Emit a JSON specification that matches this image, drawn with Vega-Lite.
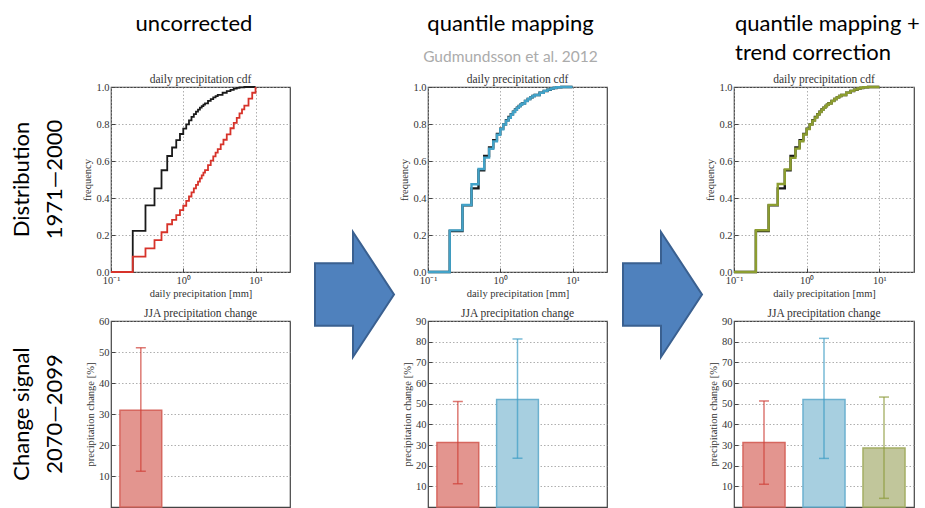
{
  "$schema": "https://vega.github.io/schema/vega-lite/v6.json",
  "padding": 0,
  "background": "white",
  "columns": 7,
  "spacing": {"row": 0, "column": 20},
  "bounds": "flush",
  "align": "each",
  "data": {"values": [{"k": 0}]},
  "datasets": {
    "obs": [{"x":0.1,"F":0},{"x":0.2,"F":0.222},{"x":0.3,"F":0.36},{"x":0.4,"F":0.452},{"x":0.5,"F":0.55},{"x":0.6,"F":0.627},{"x":0.7,"F":0.673},{"x":0.8,"F":0.713},{"x":0.9,"F":0.746},{"x":1.0,"F":0.775},{"x":1.1,"F":0.798},{"x":1.2,"F":0.82},{"x":1.3,"F":0.838},{"x":1.4,"F":0.853},{"x":1.5,"F":0.867},{"x":1.6,"F":0.878},{"x":1.7,"F":0.888},{"x":1.8,"F":0.897},{"x":1.9,"F":0.905},{"x":2.0,"F":0.912},{"x":2.2,"F":0.925},{"x":2.4,"F":0.935},{"x":2.6,"F":0.944},{"x":2.8,"F":0.951},{"x":3.0,"F":0.957},{"x":3.5,"F":0.969},{"x":4.0,"F":0.978},{"x":4.5,"F":0.985},{"x":5.0,"F":0.991},{"x":5.5,"F":0.995},{"x":6.0,"F":0.998},{"x":7.0,"F":1.0},{"x":10.0,"F":1.0}],
    "raw": [{"x":0.1,"F":0},{"x":0.2,"F":0.083},{"x":0.3,"F":0.128},{"x":0.4,"F":0.172},{"x":0.5,"F":0.215},{"x":0.6,"F":0.258},{"x":0.7,"F":0.282},{"x":0.8,"F":0.307},{"x":0.9,"F":0.334},{"x":1.0,"F":0.358},{"x":1.1,"F":0.384},{"x":1.2,"F":0.408},{"x":1.3,"F":0.43},{"x":1.4,"F":0.452},{"x":1.5,"F":0.471},{"x":1.6,"F":0.489},{"x":1.7,"F":0.506},{"x":1.8,"F":0.522},{"x":1.9,"F":0.537},{"x":2.0,"F":0.551},{"x":2.2,"F":0.578},{"x":2.4,"F":0.602},{"x":2.6,"F":0.625},{"x":2.8,"F":0.645},{"x":3.0,"F":0.664},{"x":3.3,"F":0.69},{"x":3.6,"F":0.715},{"x":4.0,"F":0.744},{"x":4.5,"F":0.777},{"x":5.0,"F":0.806},{"x":5.5,"F":0.833},{"x":6.0,"F":0.857},{"x":6.5,"F":0.879},{"x":7.0,"F":0.899},{"x":8.0,"F":0.937},{"x":9.0,"F":0.969},{"x":10.0,"F":1.0}],
    "qm": [{"x":0.1,"F":0},{"x":0.2,"F":0.225},{"x":0.3,"F":0.362},{"x":0.4,"F":0.474},{"x":0.5,"F":0.557},{"x":0.6,"F":0.618},{"x":0.7,"F":0.666},{"x":0.8,"F":0.706},{"x":0.9,"F":0.742},{"x":1.0,"F":0.772},{"x":1.1,"F":0.797},{"x":1.2,"F":0.818},{"x":1.3,"F":0.834},{"x":1.4,"F":0.851},{"x":1.5,"F":0.865},{"x":1.6,"F":0.877},{"x":1.7,"F":0.887},{"x":1.8,"F":0.896},{"x":1.9,"F":0.904},{"x":2.0,"F":0.911},{"x":2.2,"F":0.924},{"x":2.4,"F":0.935},{"x":2.6,"F":0.944},{"x":2.8,"F":0.951},{"x":3.0,"F":0.957},{"x":3.5,"F":0.969},{"x":4.0,"F":0.979},{"x":4.5,"F":0.986},{"x":5.0,"F":0.992},{"x":5.5,"F":0.996},{"x":6.0,"F":0.999},{"x":7.0,"F":1.0},{"x":10.0,"F":1.0}],
    "qmtc": [{"x":0.1,"F":0},{"x":0.2,"F":0.226},{"x":0.3,"F":0.363},{"x":0.4,"F":0.476},{"x":0.5,"F":0.555},{"x":0.6,"F":0.617},{"x":0.7,"F":0.667},{"x":0.8,"F":0.707},{"x":0.9,"F":0.743},{"x":1.0,"F":0.773},{"x":1.1,"F":0.797},{"x":1.2,"F":0.818},{"x":1.3,"F":0.835},{"x":1.4,"F":0.851},{"x":1.5,"F":0.865},{"x":1.6,"F":0.877},{"x":1.7,"F":0.887},{"x":1.8,"F":0.896},{"x":1.9,"F":0.904},{"x":2.0,"F":0.911},{"x":2.2,"F":0.924},{"x":2.4,"F":0.935},{"x":2.6,"F":0.944},{"x":2.8,"F":0.951},{"x":3.0,"F":0.957},{"x":3.5,"F":0.969},{"x":4.0,"F":0.979},{"x":4.5,"F":0.986},{"x":5.0,"F":0.992},{"x":5.5,"F":0.996},{"x":6.0,"F":0.999},{"x":7.0,"F":1.0},{"x":10.0,"F":1.0}],
    "bars1": [{"method":"uncorrected","change":31.2,"lo":11.5,"hi":51.4}],
    "bars2": [{"method":"uncorrected","change":31.2,"lo":11.3,"hi":51.0},{"method":"qm","change":52.0,"lo":23.6,"hi":81.3}],
    "bars3": [{"method":"uncorrected","change":31.2,"lo":11.0,"hi":51.3},{"method":"qm","change":52.0,"lo":23.5,"hi":81.6},{"method":"qmtc","change":28.6,"lo":4.2,"hi":53.2}]
  },
  "concat": [
    {"width":44,"height":87,"mark":{"type":"point","opacity":0}},
    {"width":27,"height":87,"mark":{"type":"point","opacity":0}},
    {"width":179,"height":87,"mark":{"type":"point","opacity":0},
     "title":{"text":"uncorrected","orient":"bottom","anchor":"middle","frame":"group","baseline":"alphabetic","offset":-56,"dx":-6.5,"font":"Lato","fontSize":22,"fontWeight":"normal","color":"#000000"}},
    {"width":98,"height":87,"mark":{"type":"point","opacity":0}},
    {"width":179,"height":87,"mark":{"type":"point","opacity":0},
     "title":{"text":"quantile mapping","subtitle":"Gudmundsson et al. 2012","orient":"bottom","anchor":"middle","frame":"group","baseline":"alphabetic","offset":-56,"dx":-7,"font":"Lato","fontSize":22,"fontWeight":"normal","color":"#000000","subtitleFont":"Lato","subtitleFontSize":15.5,"subtitleColor":"#ababab","subtitlePadding":9}},
    {"width":87,"height":87,"mark":{"type":"point","opacity":0}},
    {"width":180,"height":87,"mark":{"type":"point","opacity":0},
     "title":{"text":["quantile mapping +","trend correction"],"orient":"bottom","anchor":"start","frame":"group","baseline":"alphabetic","offset":-56,"dx":1,"lineHeight":29,"font":"Lato","fontSize":22,"fontWeight":"normal","color":"#000000"}},

    {"width":44,"height":185,"mark":{"type":"text","text":["Distribution","1971—2000"],"angle":270,"font":"Lato","fontSize":22,"lineHeight":33,"baseline":"middle","align":"center","color":"#000000"}},
    {"width":27,"height":185,"mark":{"type":"point","opacity":0}},
    {
      "width":179,"height":185,
      "view":{"stroke":"#444444","strokeWidth":1.2},
      "title":"daily precipitation cdf",
      "encoding":{
        "x":{"field":"x","type":"quantitative","scale":{"type":"log","domain":[0.1,30],"nice":false},"axis":{"values":[0.1,1,10],"labelExpr":"datum.value < 0.5 ? '10⁻¹' : (datum.value < 5 ? '10⁰' : '10¹')","labelFlush":false},"title":"daily precipitation [mm]"},
        "y":{"field":"F","type":"quantitative","scale":{"domain":[0,1],"nice":false},"axis":{"values":[0,0.2,0.4,0.6,0.8,1],"format":".1f"},"title":"frequency"}
      },
      "layer":[
        {"data":{"name":"obs"},"mark":{"type":"line","interpolate":"step-after","color":"#1a1a1a","strokeWidth":1.8}},
        {"data":{"name":"raw"},"mark":{"type":"line","interpolate":"step-after","color":"#d7332a","strokeWidth":1.8}}
      ]
    },
    {"width":98,"height":185,"mark":{"type":"point","opacity":0}},
    {
      "width":179,"height":185,
      "view":{"stroke":"#444444","strokeWidth":1.2},
      "title":"daily precipitation cdf",
      "encoding":{
        "x":{"field":"x","type":"quantitative","scale":{"type":"log","domain":[0.1,30],"nice":false},"axis":{"values":[0.1,1,10],"labelExpr":"datum.value < 0.5 ? '10⁻¹' : (datum.value < 5 ? '10⁰' : '10¹')","labelFlush":false},"title":"daily precipitation [mm]"},
        "y":{"field":"F","type":"quantitative","scale":{"domain":[0,1],"nice":false},"axis":{"values":[0,0.2,0.4,0.6,0.8,1],"format":".1f"},"title":"frequency"}
      },
      "layer":[
        {"data":{"name":"obs"},"mark":{"type":"line","interpolate":"step-after","color":"#1a1a1a","strokeWidth":2.4}},
        {"data":{"name":"qm"},"mark":{"type":"line","interpolate":"step-after","color":"#42a2c8","strokeWidth":2.4}}
      ]
    },
    {"width":87,"height":185,"mark":{"type":"point","opacity":0}},
    {
      "width":180,"height":185,
      "view":{"stroke":"#444444","strokeWidth":1.2},
      "title":"daily precipitation cdf",
      "encoding":{
        "x":{"field":"x","type":"quantitative","scale":{"type":"log","domain":[0.1,30],"nice":false},"axis":{"values":[0.1,1,10],"labelExpr":"datum.value < 0.5 ? '10⁻¹' : (datum.value < 5 ? '10⁰' : '10¹')","labelFlush":false},"title":"daily precipitation [mm]"},
        "y":{"field":"F","type":"quantitative","scale":{"domain":[0,1],"nice":false},"axis":{"values":[0,0.2,0.4,0.6,0.8,1],"format":".1f"},"title":"frequency"}
      },
      "layer":[
        {"data":{"name":"obs"},"mark":{"type":"line","interpolate":"step-after","color":"#1a1a1a","strokeWidth":2.4}},
        {"data":{"name":"qmtc"},"mark":{"type":"line","interpolate":"step-after","color":"#8c9d30","strokeWidth":2.4}}
      ]
    },

    {"width":44,"height":49,"mark":{"type":"point","opacity":0}},
    {"width":27,"height":49,"mark":{"type":"point","opacity":0}},
    {"width":179,"height":49,"mark":{"type":"point","opacity":0}},
    {"width":98,"height":49,"mark":{"type":"point","shape":"M-0.704,-0.532L-0.096,-0.532L-0.096,-1.032L0.56,-0.032L-0.096,0.968L-0.096,0.468L-0.704,0.468Z","size":15625,"filled":true,"fill":"#4f81bd","stroke":"#3a6090","strokeWidth":2,"opacity":1}},
    {"width":179,"height":49,"mark":{"type":"point","opacity":0}},
    {"width":87,"height":49,"mark":{"type":"point","shape":"M-0.76,-0.532L-0.152,-0.532L-0.152,-1.032L0.504,-0.032L-0.152,0.968L-0.152,0.468L-0.76,0.468Z","size":15625,"filled":true,"fill":"#4f81bd","stroke":"#3a6090","strokeWidth":2,"opacity":1}},
    {"width":180,"height":49,"mark":{"type":"point","opacity":0}},

    {"width":44,"height":186,"mark":{"type":"text","text":["Change signal","2070—2099"],"angle":270,"font":"Lato","fontSize":22,"lineHeight":33,"baseline":"middle","align":"center","color":"#000000"}},
    {"width":27,"height":186,"mark":{"type":"point","opacity":0}},
    {
      "width":179,"height":186,
      "view":{"stroke":"#444444","strokeWidth":1.2},
      "title":"JJA precipitation change",
      "data":{"name":"bars1"},
      "encoding":{
        "x":{"field":"method","type":"nominal","scale":{"domain":["uncorrected","qm","qmtc"],"paddingInner":0.3,"paddingOuter":0.15},"axis":null},
        "y":{"field":"change","type":"quantitative","scale":{"domain":[0,60],"nice":false},"axis":{"values":[10,20,30,40,50,60],"tickCount":20},"title":"precipitation change [%]"}
      },
      "layer":[
        {"mark":{"type":"bar","strokeWidth":1.5},"encoding":{
          "fill":{"field":"method","type":"nominal","scale":{"domain":["uncorrected","qm","qmtc"],"range":["#e3958f","#a7cfe0","#c1c69b"]},"legend":null},
          "stroke":{"field":"method","type":"nominal","scale":{"domain":["uncorrected","qm","qmtc"],"range":["#d6675f","#6cb1cf","#a4ae64"]},"legend":null}}},
        {"mark":{"type":"rule","strokeWidth":1.5,"opacity":0.7},"encoding":{
          "y":{"field":"lo","type":"quantitative","axis":{"values":[10,20,30,40,50,60],"tickCount":20},"title":"precipitation change [%]"},"y2":{"field":"hi"},
          "color":{"field":"method","type":"nominal","scale":{"domain":["uncorrected","qm","qmtc"],"range":["#cf4038","#3d9cc4","#8d9b3c"]},"legend":null}}},
        {"mark":{"type":"tick","size":10,"thickness":1.5,"opacity":0.7},"encoding":{
          "y":{"field":"lo","type":"quantitative","axis":{"values":[10,20,30,40,50,60],"tickCount":20},"title":"precipitation change [%]"},
          "color":{"field":"method","type":"nominal","scale":{"domain":["uncorrected","qm","qmtc"],"range":["#cf4038","#3d9cc4","#8d9b3c"]},"legend":null}}},
        {"mark":{"type":"tick","size":10,"thickness":1.5,"opacity":0.7},"encoding":{
          "y":{"field":"hi","type":"quantitative","axis":{"values":[10,20,30,40,50,60],"tickCount":20},"title":"precipitation change [%]"},
          "color":{"field":"method","type":"nominal","scale":{"domain":["uncorrected","qm","qmtc"],"range":["#cf4038","#3d9cc4","#8d9b3c"]},"legend":null}}}
      ]
    },
    {"width":98,"height":186,"mark":{"type":"point","opacity":0}},
    {
      "width":179,"height":186,
      "view":{"stroke":"#444444","strokeWidth":1.2},
      "title":"JJA precipitation change",
      "data":{"name":"bars2"},
      "encoding":{
        "x":{"field":"method","type":"nominal","scale":{"domain":["uncorrected","qm","qmtc"],"paddingInner":0.3,"paddingOuter":0.15},"axis":null},
        "y":{"field":"change","type":"quantitative","scale":{"domain":[0,90],"nice":false},"axis":{"values":[10,20,30,40,50,60,70,80,90],"tickCount":20},"title":"precipitation change [%]"}
      },
      "layer":[
        {"mark":{"type":"bar","strokeWidth":1.5},"encoding":{
          "fill":{"field":"method","type":"nominal","scale":{"domain":["uncorrected","qm","qmtc"],"range":["#e3958f","#a7cfe0","#c1c69b"]},"legend":null},
          "stroke":{"field":"method","type":"nominal","scale":{"domain":["uncorrected","qm","qmtc"],"range":["#d6675f","#6cb1cf","#a4ae64"]},"legend":null}}},
        {"mark":{"type":"rule","strokeWidth":1.5,"opacity":0.7},"encoding":{
          "y":{"field":"lo","type":"quantitative","axis":{"values":[10,20,30,40,50,60,70,80,90],"tickCount":20},"title":"precipitation change [%]"},"y2":{"field":"hi"},
          "color":{"field":"method","type":"nominal","scale":{"domain":["uncorrected","qm","qmtc"],"range":["#cf4038","#3d9cc4","#8d9b3c"]},"legend":null}}},
        {"mark":{"type":"tick","size":10,"thickness":1.5,"opacity":0.7},"encoding":{
          "y":{"field":"lo","type":"quantitative","axis":{"values":[10,20,30,40,50,60,70,80,90],"tickCount":20},"title":"precipitation change [%]"},
          "color":{"field":"method","type":"nominal","scale":{"domain":["uncorrected","qm","qmtc"],"range":["#cf4038","#3d9cc4","#8d9b3c"]},"legend":null}}},
        {"mark":{"type":"tick","size":10,"thickness":1.5,"opacity":0.7},"encoding":{
          "y":{"field":"hi","type":"quantitative","axis":{"values":[10,20,30,40,50,60,70,80,90],"tickCount":20},"title":"precipitation change [%]"},
          "color":{"field":"method","type":"nominal","scale":{"domain":["uncorrected","qm","qmtc"],"range":["#cf4038","#3d9cc4","#8d9b3c"]},"legend":null}}}
      ]
    },
    {"width":87,"height":186,"mark":{"type":"point","opacity":0}},
    {
      "width":180,"height":186,
      "view":{"stroke":"#444444","strokeWidth":1.2},
      "title":"JJA precipitation change",
      "data":{"name":"bars3"},
      "encoding":{
        "x":{"field":"method","type":"nominal","scale":{"domain":["uncorrected","qm","qmtc"],"paddingInner":0.3,"paddingOuter":0.15},"axis":null},
        "y":{"field":"change","type":"quantitative","scale":{"domain":[0,90],"nice":false},"axis":{"values":[10,20,30,40,50,60,70,80,90],"tickCount":20},"title":"precipitation change [%]"}
      },
      "layer":[
        {"mark":{"type":"bar","strokeWidth":1.5},"encoding":{
          "fill":{"field":"method","type":"nominal","scale":{"domain":["uncorrected","qm","qmtc"],"range":["#e3958f","#a7cfe0","#c1c69b"]},"legend":null},
          "stroke":{"field":"method","type":"nominal","scale":{"domain":["uncorrected","qm","qmtc"],"range":["#d6675f","#6cb1cf","#a4ae64"]},"legend":null}}},
        {"mark":{"type":"rule","strokeWidth":1.5,"opacity":0.7},"encoding":{
          "y":{"field":"lo","type":"quantitative","axis":{"values":[10,20,30,40,50,60,70,80,90],"tickCount":20},"title":"precipitation change [%]"},"y2":{"field":"hi"},
          "color":{"field":"method","type":"nominal","scale":{"domain":["uncorrected","qm","qmtc"],"range":["#cf4038","#3d9cc4","#8d9b3c"]},"legend":null}}},
        {"mark":{"type":"tick","size":10,"thickness":1.5,"opacity":0.7},"encoding":{
          "y":{"field":"lo","type":"quantitative","axis":{"values":[10,20,30,40,50,60,70,80,90],"tickCount":20},"title":"precipitation change [%]"},
          "color":{"field":"method","type":"nominal","scale":{"domain":["uncorrected","qm","qmtc"],"range":["#cf4038","#3d9cc4","#8d9b3c"]},"legend":null}}},
        {"mark":{"type":"tick","size":10,"thickness":1.5,"opacity":0.7},"encoding":{
          "y":{"field":"hi","type":"quantitative","axis":{"values":[10,20,30,40,50,60,70,80,90],"tickCount":20},"title":"precipitation change [%]"},
          "color":{"field":"method","type":"nominal","scale":{"domain":["uncorrected","qm","qmtc"],"range":["#cf4038","#3d9cc4","#8d9b3c"]},"legend":null}}}
      ]
    }
  ],
  "config": {
    "view": {"stroke": null},
    "axis": {
      "domain": false,
      "labelFont": "Liberation Serif", "labelFontSize": 10.5, "labelColor": "#333333", "labelOverlap": false,
      "titleFont": "Liberation Serif", "titleFontSize": 10.5, "titleFontWeight": "normal", "titleColor": "#333333",
      "tickColor": "#444444", "tickSize": -4, "tickWidth": 1, "labelPadding": 6, "titlePadding": 3,
      "gridColor": "#9a9a9a", "gridDash": [1.5, 2], "gridWidth": 0.8
    },
    "axisX": {"labelPadding": 7},
    "title": {"font": "Liberation Serif", "fontSize": 11.5, "fontWeight": "normal", "color": "#333333", "offset": -3}
  }
}
